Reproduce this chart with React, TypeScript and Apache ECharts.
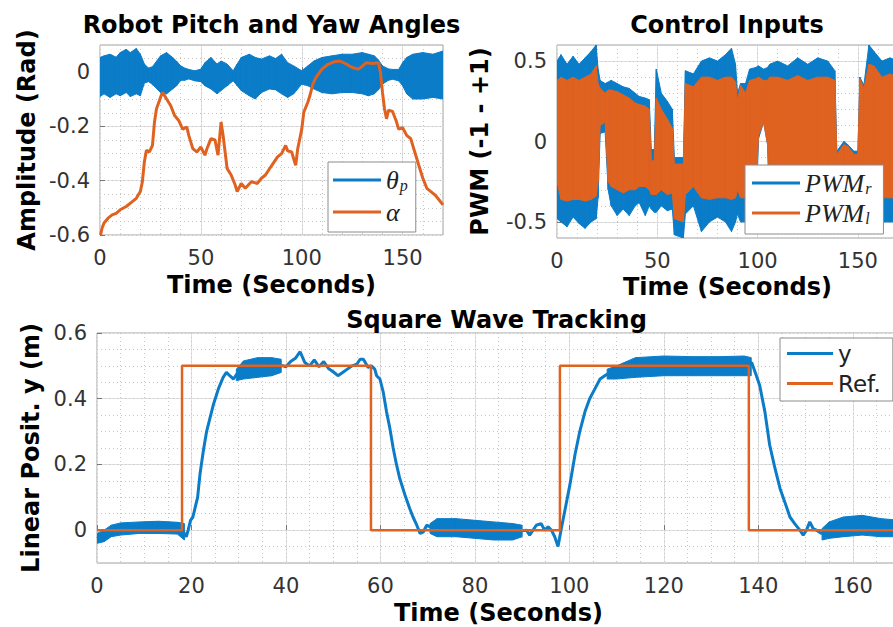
import React, { useEffect, useRef } from 'react';
import * as echarts from 'echarts';

const BLUE = '#0a7cc8';
const ORANGE = '#df6220';
const FONT = 'DejaVu Sans';
const SERIF = 'Liberation Serif';
const GRID_COLOR = '#e1e1e1';
const MINOR_COLOR = '#c6c6c6';
const BORDER = '#a3a3a3';

// ---------- Robot Pitch and Yaw Angles ----------
const pitchTicksX = [0, 50, 100, 150];
const pitchTicksY = [-0.6, -0.4, -0.2, 0];
const thetaT = [0, 2, 5, 8, 10, 13, 15, 18, 20, 22, 24, 26, 28, 30, 33, 36, 38, 40, 42, 44, 47, 50, 52, 55, 58, 60, 63, 66, 68, 70, 74, 77, 80, 84, 87, 90, 93, 96, 100, 103, 106, 110, 115, 120, 125, 130, 133, 136, 138, 140, 143, 145, 148, 150, 152, 155, 160, 165, 170];
const thetaHi = [0.054, 0.06, 0.066, 0.055, 0.072, 0.084, 0.072, 0.087, 0.066, 0.03, 0.015, 0.02, 0.04, 0.06, 0.072, 0.054, 0.04, 0.023, 0.015, 0.01, 0.005, 0.011, 0.035, 0.054, 0.03, 0.041, 0.03, 0.005, 0.03, 0.054, 0.066, 0.054, 0.048, 0.06, 0.05, 0.066, 0.035, 0.023, 0.005, 0.023, 0.041, 0.054, 0.06, 0.066, 0.066, 0.072, 0.066, 0.06, 0.045, 0.023, 0.012, 0.01, 0.01, 0.035, 0.054, 0.066, 0.072, 0.066, 0.078];
const thetaLo = [-0.09, -0.08, -0.093, -0.08, -0.087, -0.075, -0.09, -0.08, -0.087, -0.04, -0.035, -0.045, -0.06, -0.075, -0.08, -0.062, -0.05, -0.03, -0.03, -0.025, -0.032, -0.035, -0.05, -0.062, -0.08, -0.068, -0.05, -0.032, -0.05, -0.068, -0.087, -0.099, -0.075, -0.062, -0.065, -0.08, -0.093, -0.08, -0.044, -0.05, -0.062, -0.075, -0.08, -0.075, -0.075, -0.08, -0.087, -0.08, -0.065, -0.044, -0.03, -0.026, -0.032, -0.05, -0.08, -0.099, -0.099, -0.093, -0.099];
const alphaT = [0.3, 1, 2, 4, 6, 8, 10, 13, 16, 18, 20, 21, 22, 23, 24.5, 26, 27, 28, 30, 31, 33, 35, 37, 39, 41, 43, 44, 46, 48, 50, 52, 53, 55, 57, 58.5, 60, 61, 62, 63, 65, 67, 68, 70, 72, 75, 78, 80, 82, 85, 88, 90, 92, 93, 95, 96, 97, 98, 100, 101, 103, 104, 105.5, 107, 110, 113, 116, 119, 122, 125, 128, 130, 132, 135, 138, 139, 140, 141, 142, 143, 145, 147, 148, 150, 152, 154, 156, 158, 160, 162, 164, 166, 168, 170];
const alphaV = [-0.6, -0.575, -0.556, -0.538, -0.526, -0.52, -0.507, -0.495, -0.477, -0.465, -0.44, -0.404, -0.33, -0.288, -0.294, -0.27, -0.184, -0.135, -0.093, -0.074, -0.099, -0.123, -0.16, -0.178, -0.21, -0.202, -0.233, -0.282, -0.294, -0.276, -0.306, -0.282, -0.245, -0.25, -0.306, -0.184, -0.233, -0.294, -0.355, -0.379, -0.416, -0.44, -0.41, -0.428, -0.404, -0.41, -0.391, -0.379, -0.345, -0.312, -0.3, -0.27, -0.29, -0.294, -0.32, -0.343, -0.282, -0.21, -0.148, -0.111, -0.087, -0.044, -0.02, 0.011, 0.029, 0.038, 0.041, 0.03, 0.017, 0.011, 0.022, 0.035, 0.032, 0.035, 0.0, -0.074, -0.135, -0.172, -0.14, -0.145, -0.184, -0.21, -0.205, -0.233, -0.245, -0.294, -0.343, -0.391, -0.428, -0.44, -0.452, -0.47, -0.489];

// ---------- Control Inputs ----------
const pwmTicksX = [0, 50, 100, 150];
const pwmTicksY = [-0.5, 0, 0.5];
const pwmT = [0, 2, 5, 8, 11, 14, 17, 19.5, 20.5, 21.5, 24, 25.5, 27, 30, 33, 36, 39, 41, 44, 46, 47, 48.5, 49.5, 52, 55, 57.5, 58.5, 63, 64, 68, 72, 76, 80, 84, 87, 89, 90, 91.5, 94, 96, 99, 100.5, 103, 105, 106, 110, 115, 120, 125, 130, 135, 138.5, 139.5, 143, 145, 148, 150, 151, 153, 155.5, 158, 162, 166, 170];
const pwmRHi = [0.5, 0.54, 0.48, 0.53, 0.48, 0.52, 0.56, 0.6, 0.45, 0.38, 0.36, 0.37, 0.38, 0.36, 0.34, 0.33, 0.3, 0.28, 0.27, 0.26, -0.05, -0.05, 0.45, 0.3, 0.25, 0.2, -0.1, -0.1, 0.44, 0.42, 0.5, 0.52, 0.5, 0.54, 0.58, 0.48, 0.3, 0.36, 0.36, 0.45, 0.46, 0.47, 0.45, 0.46, 0.48, 0.5, 0.47, 0.52, 0.48, 0.52, 0.5, 0.44, -0.06, 0.0, -0.02, -0.06, -0.06, 0.4, 0.35, 0.6, 0.56, 0.5, 0.52, 0.5];
const pwmRLo = [-0.48, -0.5, -0.53, -0.47, -0.51, -0.54, -0.5, -0.48, -0.35, 0.05, 0.06, -0.3, -0.4, -0.46, -0.42, -0.46, -0.4, -0.38, -0.46, -0.4, -0.42, -0.44, -0.44, -0.4, -0.43, -0.42, -0.58, -0.6, -0.45, -0.4, -0.56, -0.5, -0.47, -0.5, -0.56, -0.5, -0.45, -0.5, -0.5, -0.5, -0.5, 0.02, 0.12, -0.02, -0.5, -0.5, -0.5, -0.5, -0.5, -0.5, -0.5, -0.5, -0.5, -0.5, -0.5, -0.5, -0.5, -0.5, -0.5, -0.5, -0.5, -0.5, -0.5, -0.5];
const pwmLHi = [0.38, 0.4, 0.38, 0.4, 0.38, 0.4, 0.42, 0.47, 0.36, 0.33, 0.3, 0.32, 0.32, 0.31, 0.29, 0.27, 0.24, 0.23, 0.22, 0.2, -0.12, -0.12, 0.27, 0.2, 0.14, 0.08, -0.14, -0.14, 0.36, 0.34, 0.4, 0.4, 0.38, 0.4, 0.4, 0.37, 0.25, 0.35, 0.3, 0.38, 0.39, 0.4, 0.38, 0.38, 0.4, 0.4, 0.38, 0.41, 0.38, 0.4, 0.4, 0.38, -0.08, -0.02, -0.03, -0.08, -0.08, 0.39, 0.33, 0.48, 0.47, 0.4, 0.42, 0.4];
const pwmLLo = [-0.25, -0.36, -0.37, -0.36, -0.36, -0.37, -0.36, -0.34, -0.25, 0.1, 0.12, -0.25, -0.28, -0.3, -0.32, -0.3, -0.3, -0.28, -0.28, -0.3, -0.33, -0.33, -0.33, -0.3, -0.33, -0.32, -0.48, -0.5, -0.33, -0.28, -0.35, -0.36, -0.35, -0.35, -0.36, -0.35, -0.3, -0.35, -0.35, -0.35, -0.35, 0.04, 0.12, -0.02, -0.35, -0.35, -0.35, -0.35, -0.35, -0.35, -0.35, -0.35, -0.35, -0.35, -0.35, -0.35, -0.35, -0.35, -0.35, -0.35, -0.35, -0.35, -0.35, -0.35];

// ---------- Square Wave Tracking ----------
const sqTicksX = [0, 20, 40, 60, 80, 100, 120, 140, 160];
const sqTicksY = [0, 0.2, 0.4, 0.6];
const yT = [0, 1, 2, 4, 6, 9, 13, 16, 17.8, 18.5, 18.9, 19.3, 19.8, 20.3, 20.8, 21.3, 21.8, 22.5, 23.2, 23.9, 24.6, 25.7, 26.7, 27.4, 28.1, 28.9, 29.6, 31, 34, 37, 39.4, 40, 41, 42, 43, 44, 45, 46, 47, 48, 49, 50, 51, 52, 53, 54, 55, 55.7, 56.4, 57.4, 58.1, 58.8, 59.2, 59.9, 60.6, 61.3, 62, 62.7, 63.4, 64.1, 65.2, 66.2, 66.9, 67.7, 68.4, 69.1, 69.8, 70.5, 75, 80, 85, 88, 90.9, 91.6, 93, 94, 94.8, 95.5, 96.2, 96.9, 97.6, 98.3, 99, 100.1, 101.2, 102.2, 103.3, 104.3, 105.4, 106.5, 107.5, 108.6, 110, 114, 120, 130, 137, 138.6, 139.6, 140.3, 141.4, 142.4, 143.5, 144.6, 145.6, 146.7, 147.7, 148.8, 149.5, 150.2, 150.9, 151.6, 152.3, 153.4, 155, 158, 162, 166, 170];
const yV = [-0.025, -0.02, -0.012, 0.0, 0.005, 0.008, 0.008, 0.006, 0.003, -0.01, -0.02, 0.0, 0.03, 0.04, 0.07, 0.1, 0.17, 0.24, 0.3, 0.34, 0.38, 0.43, 0.465, 0.48, 0.47, 0.46, 0.475, 0.485, 0.495, 0.5, 0.5, 0.497, 0.513, 0.523, 0.543, 0.51, 0.5, 0.518, 0.497, 0.513, 0.492, 0.482, 0.47, 0.48, 0.49, 0.5, 0.505, 0.52, 0.52, 0.495, 0.5, 0.49, 0.47, 0.46, 0.42, 0.36, 0.31, 0.25, 0.2, 0.157, 0.107, 0.066, 0.04, 0.015, -0.01, -0.005, 0.015, 0.01, 0.008, 0.003, -0.002, -0.005, 0.0, -0.015, 0.015, 0.02, 0.0, 0.01, 0.0, -0.02, -0.05, 0.005, 0.056, 0.137, 0.23, 0.3, 0.36, 0.4, 0.43, 0.46, 0.47, 0.48, 0.48, 0.495, 0.5, 0.5, 0.5, 0.51, 0.47, 0.44, 0.36, 0.26, 0.19, 0.127, 0.086, 0.04, 0.02, 0.0, -0.015, 0.0, 0.025, 0.005, 0.0, -0.01, 0.005, 0.012, 0.015, 0.008, 0.005];
// ripple envelope of y (null separates the ripple segments)
const yRippleT = [0, 1.5, 3, 5, 9, 13, 17, 18.5, null, 29.5, 31, 34, 37, 39, null, 70.5, 72, 76, 80, 84, 88, 90, null, 108, 110, 114, 120, 126, 132, 137, 138.5, null, 153.5, 155, 158, 162, 166, 170];
const yRippleLo = [-0.04, -0.035, -0.02, -0.015, -0.01, -0.01, -0.012, -0.03, null, 0.455, 0.46, 0.465, 0.47, 0.48, null, -0.01, -0.02, -0.02, -0.025, -0.03, -0.03, -0.02, null, 0.46, 0.46, 0.465, 0.47, 0.47, 0.47, 0.47, 0.47, null, -0.03, -0.025, -0.02, -0.015, -0.02, -0.02];
const yRippleHi = [-0.01, 0.0, 0.015, 0.022, 0.025, 0.027, 0.024, 0.02, null, 0.49, 0.515, 0.525, 0.525, 0.52, null, 0.02, 0.035, 0.035, 0.03, 0.025, 0.02, 0.015, null, 0.49, 0.5, 0.525, 0.53, 0.528, 0.528, 0.53, 0.525, null, 0.005, 0.025, 0.04, 0.045, 0.035, 0.03];
const refT = [0, 18, 58, 98, 138, 170];
const refV = [0, 0.5, 0, 0.5, 0, 0];

const legendLabels: Record<string, string> = {
  'θp': '{m|θ}{s|p}',
  'α': '{m|α}',
  'PWMr': '{m|PWM}{s|r}',
  'PWMl': '{m|PWM}{s|l}',
  'y': '{t|y}',
  'Ref.': '{t|Ref.}',
};

function zip(a: number[], b: number[]) {
  return a.map((v, i) => [v, b[i]]);
}

function bandData(T: (number | null)[], Lo: (number | null)[], Hi: (number | null)[]) {
  const out: number[][] = [];
  for (let i = 0; i < T.length - 1; i++) {
    if (T[i] == null || T[i + 1] == null) continue;
    out.push([T[i] as number, Lo[i] as number, Hi[i] as number, T[i + 1] as number, Lo[i + 1] as number, Hi[i + 1] as number]);
  }
  return out;
}

function bandSeries(name: string, T: any[], Lo: any[], Hi: any[], color: string, idx: number, z = 2) {
  return {
    type: 'custom',
    name,
    xAxisIndex: idx,
    yAxisIndex: idx,
    clip: true,
    silent: true,
    z,
    itemStyle: { color },
    encode: { x: [0, 3], y: [1, 2, 4, 5] },
    data: bandData(T, Lo, Hi),
    renderItem: (_params: any, api: any) => {
      const a = api.coord([api.value(0), api.value(1)]);
      const b = api.coord([api.value(0), api.value(2)]);
      const c = api.coord([api.value(3), api.value(5)]);
      const d = api.coord([api.value(3), api.value(4)]);
      return {
        type: 'polygon',
        shape: { points: [a, b, c, d] },
        style: { fill: color, stroke: color, lineWidth: 1 },
      };
    },
  };
}

function majorAxis(gridIndex: number, min: number, max: number, ticks: number[], name: string, nameGap: number, isY: boolean) {
  return {
    type: 'value',
    gridIndex,
    min,
    max,
    name,
    nameLocation: 'middle',
    nameGap,
    nameTextStyle: { fontFamily: FONT, fontWeight: 'bold', fontSize: 24, color: '#000' },
    axisLine: { show: false },
    axisTick: { show: true, inside: true, length: 5, customValues: ticks, lineStyle: { color: '#777' } },
    axisLabel: { customValues: ticks, fontFamily: FONT, fontSize: 21, color: '#333', margin: isY ? 10 : 12 },
    splitLine: { show: true, lineStyle: { color: GRID_COLOR, width: 1 } },
  };
}

function minorAxis(gridIndex: number, min: number, max: number, interval: number) {
  return {
    type: 'value',
    gridIndex,
    min,
    max,
    interval,
    axisLine: { show: false },
    axisTick: { show: false },
    axisLabel: { show: false },
    splitLine: { show: true, lineStyle: { color: MINOR_COLOR, width: 1, type: [1, 3] } },
  };
}

const titleStyle = { fontFamily: FONT, fontWeight: 'bold' as const, fontSize: 24, color: '#000' };

const legendCommon = {
  orient: 'vertical',
  icon: 'rect',
  itemWidth: 48,
  itemHeight: 3,
  backgroundColor: '#fff',
  borderColor: '#8c8c8c',
  borderWidth: 1,
  borderRadius: 0,
  selectedMode: false,
  formatter: (n: string) => legendLabels[n] || n,
  textStyle: {
    rich: {
      m: { fontFamily: SERIF, fontStyle: 'italic', fontSize: 26, lineHeight: 26, color: '#222' },
      s: { fontFamily: SERIF, fontStyle: 'italic', fontSize: 16, lineHeight: 16, verticalAlign: 'bottom', color: '#222', padding: [0, 0, 0, 1] },
      t: { fontFamily: FONT, fontSize: 23, lineHeight: 26, color: '#222' },
    },
  },
};

export default function App() {
  const ref = useRef<HTMLDivElement>(null);
  useEffect(() => {
    if (!ref.current) return;
    const chart = echarts.init(ref.current, undefined, { renderer: 'svg' });
    const option: any = {
      animation: false,
      backgroundColor: '#fff',
      title: [
        { text: 'Robot Pitch and Yaw Angles', left: 266.5, top: 7.5, textAlign: 'center', textVerticalAlign: 'top', textStyle: titleStyle },
        { text: 'Control Inputs', left: 722, top: 7.5, textAlign: 'center', textVerticalAlign: 'top', textStyle: titleStyle },
        { text: 'Square Wave Tracking', left: 491.5, top: 302.5, textAlign: 'center', textVerticalAlign: 'top', textStyle: titleStyle },
      ],
      grid: [
        { left: 100, top: 45, width: 343, height: 190, show: true, borderColor: BORDER, borderWidth: 1, backgroundColor: 'transparent' },
        { left: 557, top: 45, width: 341, height: 193, show: true, borderColor: BORDER, borderWidth: 1, backgroundColor: 'transparent' },
        { left: 97, top: 333, width: 803, height: 230, show: true, borderColor: BORDER, borderWidth: 1, backgroundColor: 'transparent' },
      ],
      xAxis: [
        majorAxis(0, 0, 170, pitchTicksX, 'Time (Seconds)', 38, false),
        majorAxis(1, 0, 170, pwmTicksX, 'Time (Seconds)', 37, false),
        majorAxis(2, 0, 170, sqTicksX, 'Time (Seconds)', 38, false),
        minorAxis(0, 0, 170, 10),
        minorAxis(1, 0, 170, 10),
        minorAxis(2, 0, 170, 5),
      ],
      yAxis: [
        majorAxis(0, -0.6, 0.1, pitchTicksY, 'Amplitude (Rad)', 61, true),
        majorAxis(1, -0.6, 0.6, pwmTicksY, 'PWM (-1 - +1)', 65, true),
        majorAxis(2, -0.1, 0.6, sqTicksY, 'Linear Posit. y (m)', 53, true),
        minorAxis(0, -0.6, 0.1, 0.05),
        minorAxis(1, -0.6, 0.6, 0.1),
        minorAxis(2, -0.1, 0.6, 0.05),
      ],
      legend: [
        { ...legendCommon, data: ['θp', 'α'], left: 328, top: 162, padding: [5, 8, 7, 5], itemGap: 6 },
        { ...legendCommon, data: ['PWMr', 'PWMl'], left: 745, top: 165, padding: [5, 12, 8, 7], itemGap: 4 },
        { ...legendCommon, data: ['y', 'Ref.'], left: 780, top: 338, padding: [4, 12, 6, 7], itemGap: 7, itemWidth: 46 },
      ],
      series: [
        bandSeries('θp', thetaT, thetaLo, thetaHi, BLUE, 0, 2),
        {
          type: 'line', name: 'α', xAxisIndex: 0, yAxisIndex: 0, data: zip(alphaT, alphaV),
          showSymbol: false, symbol: 'none', clip: true, z: 3,
          lineStyle: { width: 3, color: ORANGE }, itemStyle: { color: ORANGE },
        },
        bandSeries('PWMr', pwmT, pwmRLo, pwmRHi, BLUE, 1, 2),
        bandSeries('PWMl', pwmT, pwmLLo, pwmLHi, ORANGE, 1, 3),
        {
          type: 'line', name: 'y', xAxisIndex: 2, yAxisIndex: 2, data: zip(yT, yV),
          showSymbol: false, symbol: 'none', clip: true, z: 2,
          lineStyle: { width: 3, color: BLUE }, itemStyle: { color: BLUE },
        },
        bandSeries('yRipple', yRippleT, yRippleLo, yRippleHi, BLUE, 2, 2),
        {
          type: 'line', name: 'Ref.', xAxisIndex: 2, yAxisIndex: 2, data: zip(refT, refV), step: 'end',
          showSymbol: false, symbol: 'none', clip: true, z: 4,
          lineStyle: { width: 2.5, color: ORANGE }, itemStyle: { color: ORANGE },
        },
      ],
    };
    chart.setOption(option);
    return () => chart.dispose();
  }, []);
  return <div ref={ref} style={{ position: 'fixed', left: 0, top: 0, width: 905, height: 627 }} />;
}
